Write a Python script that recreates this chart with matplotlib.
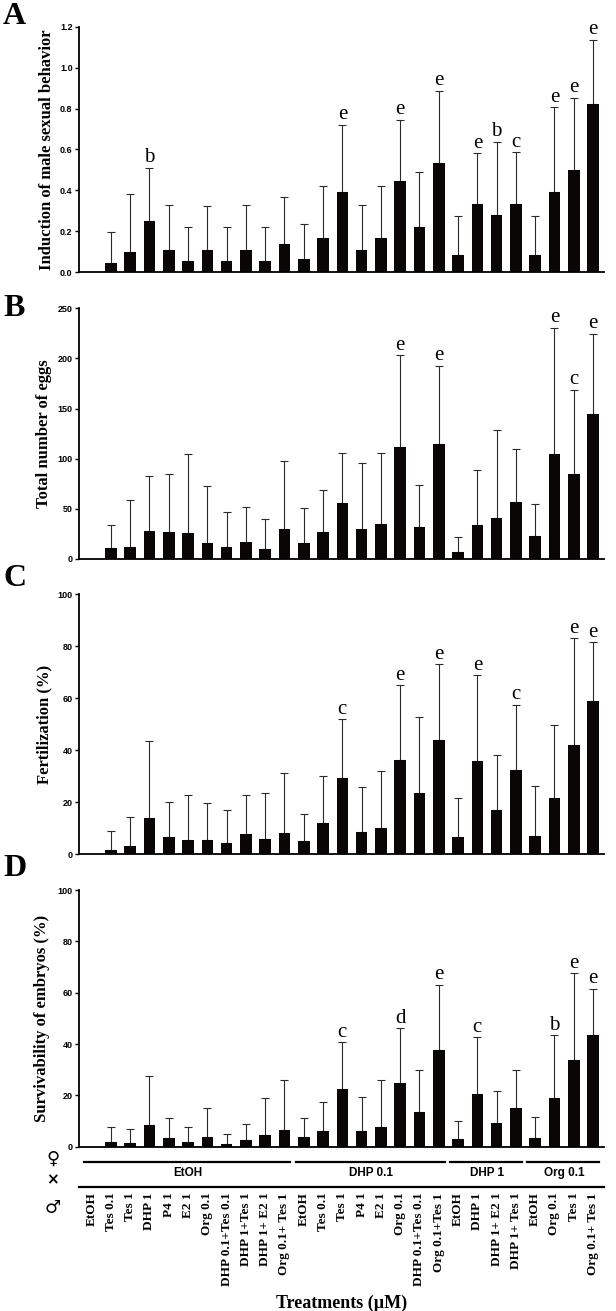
import numpy as np
import matplotlib.pyplot as plt

# male treatment (x tick labels) and female groups
male = ["EtOH", "Tes 0.1", "Tes 1", "DHP 1", "P4 1", "E2 1", "Org 0.1",
        "DHP 0.1+Tes 0.1", "DHP 1+Tes 1", "DHP 1+ E2 1", "Org 0.1+ Tes 1",
        "EtOH", "Tes 0.1", "Tes 1", "P4 1", "E2 1", "Org 0.1",
        "DHP 0.1+Tes 0.1", "Org 0.1+Tes 1",
        "EtOH", "DHP 1", "DHP 1+ E2 1", "DHP 1+ Tes 1",
        "EtOH", "Org 0.1", "Tes 1", "Org 0.1+ Tes 1"]
female = ["EtOH", "DHP 0.1", "DHP 1", "Org 0.1"]
group_sizes = [11, 8, 4, 4]

# A: induction of male sexual behavior
a_mean = [0, 0.046, 0.10, 0.25, 0.11, 0.055, 0.11, 0.055, 0.11, 0.055, 0.135,
          0.065, 0.165, 0.39, 0.11, 0.165, 0.445, 0.22, 0.533,
          0.083, 0.333, 0.277, 0.333, 0.083, 0.39, 0.50, 0.82]
a_err = [0, 0.149, 0.28, 0.26, 0.22, 0.165, 0.215, 0.165, 0.22, 0.165, 0.23,
         0.17, 0.255, 0.33, 0.22, 0.255, 0.30, 0.267, 0.354,
         0.189, 0.247, 0.361, 0.252, 0.189, 0.416, 0.353, 0.317]
a_sig = ["", "", "", "b", "", "", "", "", "", "", "",
         "", "", "e", "", "", "e", "", "e",
         "", "e", "b", "c", "", "e", "e", "e"]

# B: total number of eggs
b_mean = [0, 10.3, 12, 27.5, 27, 26, 16, 11.6, 17.2, 10, 29.8,
          15.6, 26.5, 55.7, 29.5, 35, 111.8, 31.5, 114.8,
          7, 33.8, 41, 56.7, 22.5, 105, 84.7, 145]
b_err = [0, 23.7, 46.7, 55.5, 57.6, 78.8, 57, 35.2, 34.8, 30, 67.7,
         35.1, 41.8, 49.8, 66.4, 70.8, 91.2, 42.5, 77.6,
         15, 55.1, 87.7, 53.3, 31.9, 125.4, 84, 79.6]
b_sig = ["", "", "", "", "", "", "", "", "", "", "",
         "", "", "", "", "", "e", "", "e",
         "", "", "", "", "", "e", "c", "e"]

# C: fertilization (%)
c_mean = [0, 1.8, 3.2, 14, 6.7, 5.5, 5.4, 4.5, 7.6, 5.9, 8.3,
          5.1, 11.9, 29.2, 8.6, 10.1, 36.3, 23.7, 44.1,
          6.5, 35.8, 17.2, 32.3, 7.2, 21.7, 42.2, 58.8]
c_err = [0, 7.0, 11.2, 29.6, 13.4, 17.2, 14.2, 12.4, 15.1, 17.8, 22.9,
         10.4, 18.1, 22.8, 17.4, 21.8, 28.7, 29.0, 28.9,
         15.2, 33.0, 21.0, 25.3, 19.2, 27.9, 40.8, 22.7]
c_sig = ["", "", "", "", "", "", "", "", "", "", "",
         "", "", "c", "", "", "e", "", "e",
         "", "e", "", "c", "", "", "e", "e"]

# D: survivability of embryos (%)
d_mean = [0, 1.7, 1.3, 8.4, 3.4, 1.7, 3.9, 1.2, 2.7, 4.6, 6.7,
          3.7, 6.1, 22.5, 6.3, 7.8, 24.7, 13.5, 37.6,
          3.1, 20.4, 9.2, 15.0, 3.5, 19.1, 33.9, 43.7]
d_err = [0, 5.8, 5.8, 19.2, 7.8, 5.8, 11.1, 3.8, 6.2, 14.2, 19.3,
         7.4, 11.5, 18.2, 13.0, 18.3, 21.4, 16.4, 25.5,
         7.1, 22.3, 12.4, 14.8, 8.0, 24.3, 33.7, 17.9]
d_sig = ["", "", "", "", "", "", "", "", "", "", "",
         "", "", "c", "", "", "d", "", "e",
         "", "c", "", "", "", "b", "e", "e"]

serif = "Liberation Serif"
sans = "Liberation Sans"

panels = [
    ("A", a_mean, a_err, a_sig, "Induction of male sexual behavior",
     np.arange(0, 1.21, 0.2), "%.1f", [0.7925, 0.1871], -0.061, 1 - 2 / 1311),
    ("B", b_mean, b_err, b_sig, "Total number of eggs",
     np.arange(0, 251, 50), "%d", [0.5738, 0.1910], -0.066, 1 - 294 / 1311),
    ("C", c_mean, c_err, c_sig, "Fertilization (%)",
     np.arange(0, 101, 20), "%d", [0.3484, 0.1983], -0.066, 1 - 564 / 1311),
    ("D", d_mean, d_err, d_sig, "Survivability of embryos (%)",
     np.arange(0, 101, 20), "%d", [0.1253, 0.1958], -0.070, 1 - 854 / 1311),
]

fig = plt.figure(figsize=(6.16, 13.11), dpi=100)
x = np.arange(len(male))

for letter, mean, err, sig, ylab, ticks, fmt, (bot, h), lab_x, let_y in panels:
    ax = fig.add_axes([0.128, bot, 0.852, h])
    mean = np.array(mean, dtype=float)
    err = np.array(err, dtype=float)
    ax.bar(x, mean, width=0.6, color="#0b0606", zorder=2)
    has = err > 0
    ax.errorbar(x[has], mean[has], yerr=[np.zeros(has.sum()), err[has]],
                fmt="none", ecolor="#2b2b2b", elinewidth=0.8,
                capsize=2.6, capthick=0.8, zorder=1)
    for xi, m, e, s in zip(x, mean, err, sig):
        if s:
            ax.annotate(s, (xi, m + e), xytext=(0, 4), textcoords="offset points",
                        ha="center", va="baseline", fontsize=15, family=serif)
    ax.set_xlim(-0.66, 26.55)
    ax.set_ylim(ticks[0], ticks[-1])
    ax.set_yticks(ticks)
    ax.set_yticklabels([fmt % t for t in ticks], fontsize=6.5, fontweight="bold",
                       family=sans)
    ax.spines[["top", "right"]].set_visible(False)
    ax.spines[["left", "bottom"]].set_linewidth(1.3)
    ax.tick_params(axis="y", length=3, width=1, pad=1.5)
    ax.set_ylabel(ylab, fontsize=12, fontweight="bold", family=serif, va="center")
    ax.yaxis.set_label_coords(lab_x, 0.5)
    fig.text(0.005, let_y, letter, fontsize=23, fontweight="bold", family=serif,
             va="top", ha="left")
    if letter != "D":
        ax.tick_params(axis="x", bottom=False, labelbottom=False)

# bottom panel: treatment labels and female groups
ax.set_xticks(x)
ax.set_xticklabels(male, rotation=90, fontsize=9.5, fontweight="bold", family=serif,
                   va="top", ha="center")
ax.tick_params(axis="x", length=0, pad=33)
ax.set_xlabel("Treatments (\u00b5M)", fontsize=13, fontweight="bold", family=serif,
              labelpad=6)

tr = ax.get_xaxis_transform()
start = 0
for name, n in zip(female, group_sizes):
    ax.plot([start - 0.4, start + n - 1 + 0.3], [-0.058, -0.058], color="black",
            lw=1.6, transform=tr, clip_on=False)
    ax.text(start + (n - 1) / 2, -0.102, name, transform=tr, ha="center",
            va="center", fontsize=8.5, fontweight="bold", family=sans)
    start += n
ax.plot([-0.66, 26.55], [-0.157, -0.157], color="black", lw=1.6, transform=tr,
        clip_on=False)

sym_tr = ax.transAxes
ax.text(-0.05, -0.045, "\u2640", transform=sym_tr, ha="center", va="center",
        fontsize=13, fontweight="bold", family="DejaVu Sans")
ax.text(-0.05, -0.13, "\u00d7", transform=sym_tr, ha="center", va="center",
        fontsize=11, fontweight="bold", family="DejaVu Sans")
ax.text(-0.05, -0.238, "\u2642", transform=sym_tr, ha="center", va="center",
        fontsize=13, fontweight="bold", family="DejaVu Sans")

fig.savefig("out.png", dpi=100)
